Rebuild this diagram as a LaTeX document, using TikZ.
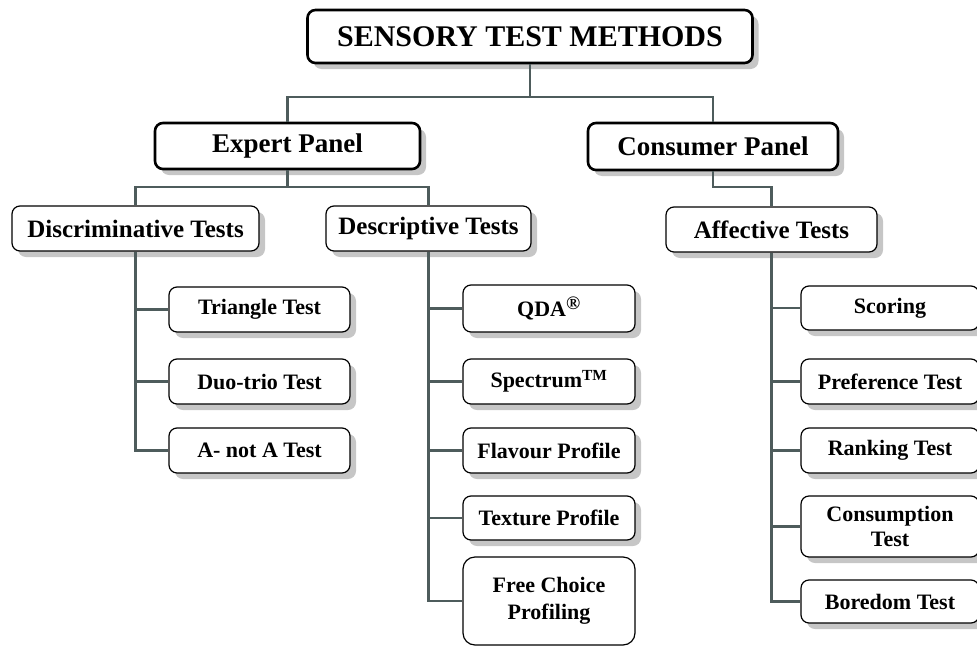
\documentclass[tikz,border=0pt]{standalone}
\usepackage{fontspec}
\setmainfont{Liberation Serif}
\usetikzlibrary{shadows}
\definecolor{linkgray}{RGB}{78,92,92}
\newcommand{\fs}[2]{\fontsize{#1}{#2}\selectfont\bfseries}

\begin{document}
\begin{tikzpicture}[x=1pt,y=-1pt,
   boxshadow/.style={drop shadow={shadow xshift=6pt,shadow yshift=-6pt,fill=gray!45,opacity=1}},
   headbox/.style={draw,line width=2.6pt,rounded corners=8pt,fill=white,boxshadow,inner sep=2pt,font=\fs{27}{30}},
   plainbox/.style={draw,line width=1.2pt,rounded corners=8pt,fill=white,inner sep=2pt,align=center,font=\fs{22}{26}},
   testbox/.style={plainbox,boxshadow},
   link/.style={draw=linkgray,line width=2.8pt}]
   \useasboundingbox (0,0) rectangle (977,648);

   \node [headbox,minimum width=445pt,minimum height=53pt,font=\fs{30}{32}] (title) at (530,36.5) {SENSORY TEST METHODS};
   \node [headbox,minimum width=265pt,minimum height=46pt] (expert) at (287.5,146) {Expert Panel};
   \node [headbox,minimum width=250pt,minimum height=47pt] (consumer) at (713,146.5) {Consumer Panel};

   \node [testbox,minimum width=247pt,minimum height=45pt,font=\fs{25}{28}] (discr) at (135.5,228.5) {Discriminative Tests};
   \node [testbox,minimum width=205pt,minimum height=45pt,font=\fs{25}{28}] (descr) at (428.5,228.5) {Descriptive Tests};
   \node [testbox,minimum width=211pt,minimum height=45pt,font=\fs{25}{28}] (affect) at (771.5,229.5) {Affective Tests};

   \node [testbox,minimum width=181pt,minimum height=45pt] (triangle) at (259.5,309.5) {Triangle Test};
   \node [testbox,minimum width=181pt,minimum height=45pt] (duotrio) at (259.5,381.5) {Duo-trio Test};
   \node [testbox,minimum width=181pt,minimum height=45pt] (anota) at (259.5,450.5) {A- not A Test};

   \node [testbox,minimum width=172pt,minimum height=47pt] (qda) at (549,308.5) {QDA\textsuperscript{\fontsize{19}{19}\selectfont\textregistered}};
   \node [testbox,minimum width=172pt,minimum height=45pt] (spectrum) at (549,381.5) {Spectrum\textsuperscript{TM}};
   \node [testbox,minimum width=172pt,minimum height=45pt] (flavour) at (549,450.5) {Flavour Profile};
   \node [testbox,minimum width=172pt,minimum height=44pt] (texture) at (549,518) {Texture Profile};
   \node [plainbox,rounded corners=12pt,minimum width=172pt,minimum height=88pt,font=\fs{22}{27}] (freechoice) at (549,601) {Free Choice\\Profiling};

   \node [testbox,minimum width=178pt,minimum height=44pt] (scoring) at (890,308) {Scoring};
   \node [testbox,minimum width=178pt,minimum height=45pt] (preference) at (890,381.5) {Preference Test};
   \node [testbox,minimum width=178pt,minimum height=45pt] (ranking) at (890,450.5) {Ranking Test};
   \node [testbox,minimum width=178pt,minimum height=61pt,font=\fs{22}{25}] (consumption) at (890,526.5) {Consumption\\Test};
   \node [testbox,minimum width=178pt,minimum height=43pt] (boredom) at (890,601.5) {Boredom Test};

   \coordinate (topbus) at (530,97);
   \coordinate (expbus) at (287.5,187);
   \coordinate (conbus) at (713,187);

   \path [link] (title.south) -- (topbus);
   \path [link] (topbus) -| (expert.north);
   \path [link] (topbus) -| (consumer.north);
   \path [link] (expert.south) -- (expbus);
   \path [link] (expbus) -| (discr.north);
   \path [link] (expbus) -| (descr.north);
   \path [link] (consumer.south) -- (conbus) -| (affect.north);

   \foreach \leaf in {triangle,duotrio,anota}
      \path [link] (discr.south) |- (\leaf.west);
   \foreach \leaf in {qda,spectrum,flavour,texture,freechoice}
      \path [link] (descr.south) |- (\leaf.west);
   \foreach \leaf in {scoring,preference,ranking,consumption,boredom}
      \path [link] (affect.south) |- (\leaf.west);
\end{tikzpicture}
\end{document}
